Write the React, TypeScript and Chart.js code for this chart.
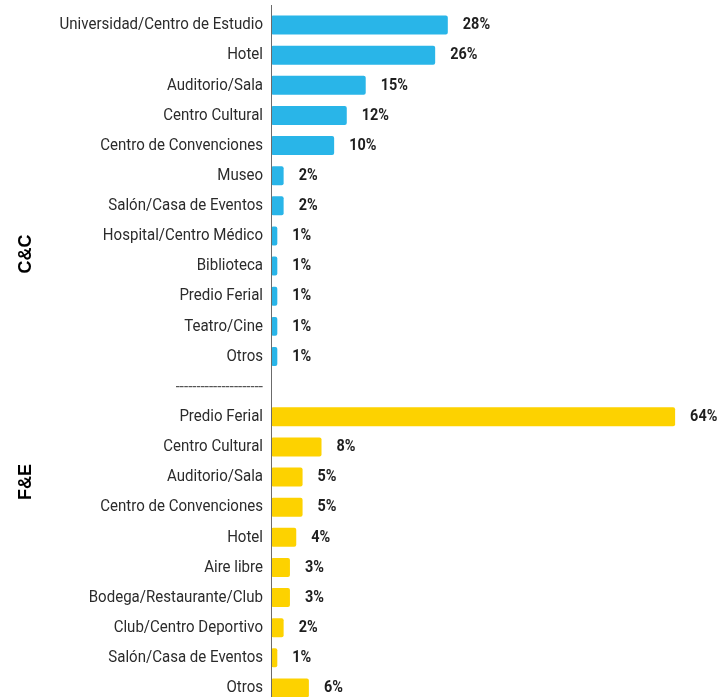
import React, { useEffect, useRef } from "react";
import { Chart, registerables } from "chart.js";

Chart.register(...registerables);

const ccLabels = [
  "Universidad/Centro de Estudio",
  "Hotel",
  "Auditorio/Sala",
  "Centro Cultural",
  "Centro de Convenciones",
  "Museo",
  "Salón/Casa de Eventos",
  "Hospital/Centro Médico",
  "Biblioteca",
  "Predio Ferial",
  "Teatro/Cine",
  "Otros",
];
const ccValues = [28, 26, 15, 12, 10, 2, 2, 1, 1, 1, 1, 1];

const separatorLabel = "---------------------";

const feLabels = [
  "Predio Ferial",
  "Centro Cultural",
  "Auditorio/Sala",
  "Centro de Convenciones",
  "Hotel",
  "Aire libre",
  "Bodega/Restaurante/Club",
  "Club/Centro Deportivo",
  "Salón/Casa de Eventos",
  "Otros",
];
const feValues = [64, 8, 5, 5, 4, 3, 3, 2, 1, 6];

const groupNames = ["C&C", "F&E"];

const BLUE = "#29b5e8";
const YELLOW = "#fdd200";

const allLabels = [...ccLabels, separatorLabel, ...feLabels];
const ccData = [...ccValues, ...Array(1 + feValues.length).fill(null)];
const feData = [...Array(ccValues.length + 1).fill(null), ...feValues];

const LABEL_SQUEEZE = 0.885;
const VALUE_SQUEEZE = 0.85;

const drawPlugin = {
  id: "customText",
  afterDraw(chart: any) {
    const ctx = chart.ctx;
    const y = chart.scales.y;
    const area = chart.chartArea;
    ctx.save();
    // axis line
    ctx.strokeStyle = "#6b6b6b";
    ctx.lineWidth = 1;
    ctx.beginPath();
    ctx.moveTo(area.left + 0.5, 5);
    ctx.lineTo(area.left + 0.5, chart.height);
    ctx.stroke();

    // category labels
    ctx.textBaseline = "middle";
    allLabels.forEach((lab, i) => {
      const py = y.getPixelForValue(i);
      ctx.save();
      ctx.translate(area.left - 8, py);
      ctx.scale(LABEL_SQUEEZE, 1);
      ctx.textAlign = "right";
      if (lab === separatorLabel) {
        ctx.font = "17px Roboto";
        ctx.fillStyle = "#555";
        ctx.fillText(lab, 0, 1);
      } else {
        ctx.font = "17px Roboto";
        ctx.fillStyle = "#2b2b2b";
        ctx.fillText(lab, 0, 0);
      }
      ctx.restore();
    });

    // value labels
    chart.data.datasets.forEach((ds: any, di: number) => {
      const meta = chart.getDatasetMeta(di);
      meta.data.forEach((bar: any, i: number) => {
        const v = ds.data[i];
        if (v == null) return;
        ctx.save();
        ctx.translate(bar.x + 15, bar.y);
        ctx.scale(VALUE_SQUEEZE, 1);
        ctx.textAlign = "left";
        ctx.font = "bold 17px Roboto";
        ctx.fillStyle = "#1e1e1e";
        ctx.fillText(v + "%", 0, 0);
        ctx.restore();
      });
    });

    // group titles
    const groupPos = [254, 482];
    groupNames.forEach((g, i) => {
      ctx.save();
      ctx.translate(26, groupPos[i]);
      ctx.rotate(-Math.PI / 2);
      ctx.textAlign = "center";
      ctx.textBaseline = "middle";
      ctx.font = "bold 18px 'Liberation Sans', Arial, sans-serif";
      ctx.fillStyle = "#000";
      ctx.fillText(g, 0, 0);
      ctx.restore();
    });
    ctx.restore();
  },
};

export default function App() {
  const ref = useRef<HTMLCanvasElement>(null);
  useEffect(() => {
    if (!ref.current) return;
    const chart = new Chart(ref.current, {
      type: "bar",
      data: {
        labels: allLabels,
        datasets: [
          {
            data: ccData,
            backgroundColor: BLUE,
            borderRadius: 2,
            borderSkipped: false,
            barPercentage: 0.63,
            categoryPercentage: 1,
            grouped: false,
          },
          {
            data: feData,
            backgroundColor: YELLOW,
            borderRadius: 2,
            borderSkipped: false,
            barPercentage: 0.63,
            categoryPercentage: 1,
            grouped: false,
          },
        ],
      },
      options: {
        indexAxis: "y",
        animation: false,
        responsive: false,
        maintainAspectRatio: false,
        layout: { padding: { top: 10, right: 9, bottom: 2, left: 0 } },
        plugins: {
          legend: { display: false },
          tooltip: { enabled: false },
        },
        scales: {
          x: {
            min: 0,
            max: 70,
            display: false,
          },
          y: {
            display: true,
            grid: { display: false, drawTicks: false },
            border: { display: false },
            ticks: { display: false },
            afterFit: (scale: any) => {
              scale.width = 271;
            },
          },
        },
      },
      plugins: [drawPlugin],
    });
    return () => chart.destroy();
  }, []);
  return (
    <div
      style={{
        position: "fixed",
        left: 0,
        top: 0,
        width: 722,
        height: 697,
        overflow: "hidden",
        background: "#fff",
      }}
    >
      <canvas ref={ref} width={722} height={705} style={{ display: "block" }} />
    </div>
  );
}
